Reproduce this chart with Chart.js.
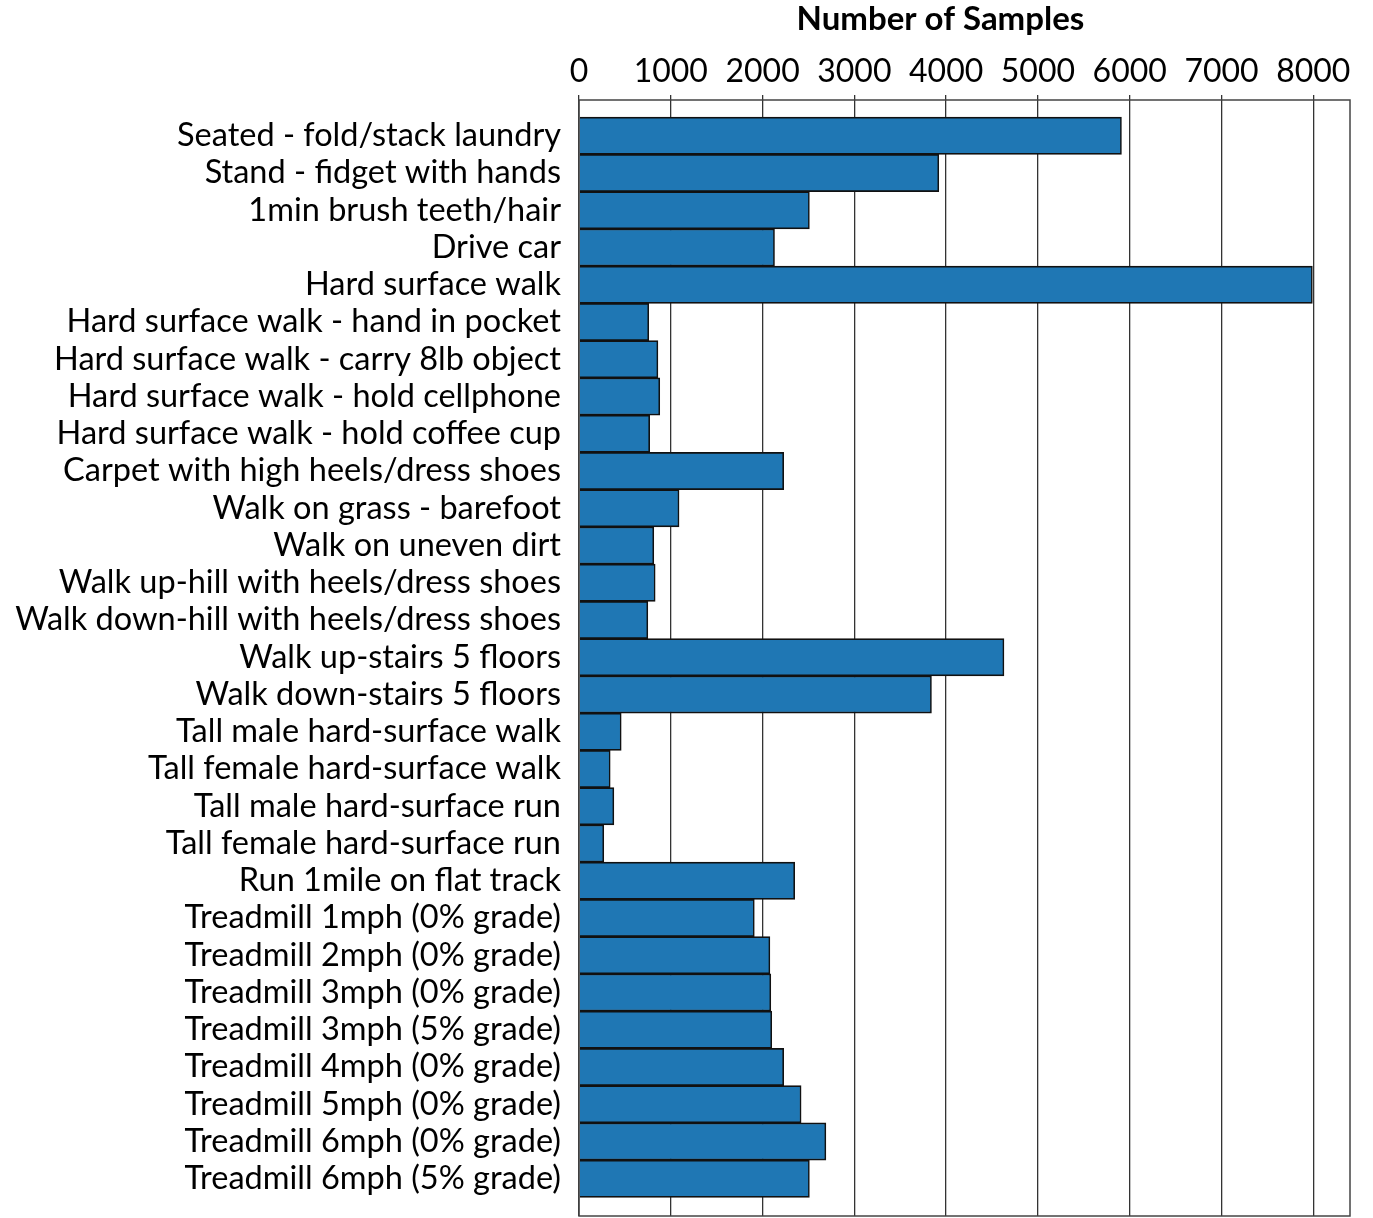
<!DOCTYPE html>
<html>
<head>
<meta charset="utf-8">
<script src="https://cdn.jsdelivr.net/npm/chart.js@4.4.1/dist/chart.umd.min.js"></script>
<style>
  html, body { margin: 0; padding: 0; background: #fff; }
  #wrap { width: 1373px; height: 1218px; }
</style>
</head>
<body>
<div id="wrap"><canvas id="c"></canvas></div>
<script>
  // Activity categories, top to bottom
  const activities = [
    "Seated - fold/stack laundry",
    "Stand - fidget with hands",
    "1min brush teeth/hair",
    "Drive car",
    "Hard surface walk",
    "Hard surface walk - hand in pocket",
    "Hard surface walk - carry 8lb object",
    "Hard surface walk - hold cellphone",
    "Hard surface walk - hold coffee cup",
    "Carpet with high heels/dress shoes",
    "Walk on grass - barefoot",
    "Walk on uneven dirt",
    "Walk up-hill with heels/dress shoes",
    "Walk down-hill with heels/dress shoes",
    "Walk up-stairs 5 floors",
    "Walk down-stairs 5 floors",
    "Tall male hard-surface walk",
    "Tall female hard-surface walk",
    "Tall male hard-surface run",
    "Tall female hard-surface run",
    "Run 1mile on flat track",
    "Treadmill 1mph (0% grade)",
    "Treadmill 2mph (0% grade)",
    "Treadmill 3mph (0% grade)",
    "Treadmill 3mph (5% grade)",
    "Treadmill 4mph (0% grade)",
    "Treadmill 5mph (0% grade)",
    "Treadmill 6mph (0% grade)",
    "Treadmill 6mph (5% grade)",
  ];

  // Number of samples per activity
  const samples = [
    5910, 3920, 2510, 2130, 7990, 760, 860, 880, 770, 2230,
    1090, 815, 830, 750, 4630, 3840, 460, 340, 380, 270,
    2350, 1910, 2080, 2090, 2100, 2230, 2420, 2690, 2510,
  ];

  const xTicks = [0, 1000, 2000, 3000, 4000, 5000, 6000, 7000, 8000];

  const FONT = "Lato, 'Open Sans', sans-serif";
  // index range of the y axis (empty margin above first bar / below last)
  const Y_MIN = -0.96;
  const Y_MAX = 29;

  // frame round the plot area
  const boxPlugin = {
    id: "box",
    afterDraw(chart) {
      const { ctx, chartArea: a } = chart;
      ctx.save();
      ctx.strokeStyle = "#444";
      ctx.lineWidth = 1.5;
      ctx.strokeRect(a.left, a.top, a.right - a.left, a.bottom - a.top);
      ctx.restore();
    },
  };

  new Chart(document.getElementById("c"), {
    type: "bar",
    data: {
      datasets: [
        {
          label: "Number of Samples",
          data: samples.map((v, i) => ({ x: v, y: i })),
          backgroundColor: "#1f77b4",
          borderColor: "#111",
          borderWidth: 1.6,
          barPercentage: 1,
          categoryPercentage: 1,
        },
      ],
    },
    options: {
      indexAxis: "y",
      responsive: true,
      maintainAspectRatio: false,
      animation: false,
      layout: { padding: { right: 23, bottom: 2, left: 0, top: 0 } },
      plugins: {
        legend: { display: false },
        tooltip: { enabled: false },
      },
      scales: {
        x: {
          type: "linear",
          position: "top",
          min: 0,
          max: 8400,
          z: 1,
          afterFit(scale) {
            scale.height = 100;
            scale.paddingLeft = 0;
            scale.paddingRight = 0;
          },
          afterBuildTicks(scale) {
            scale.ticks = xTicks.map((v) => ({ value: v }));
          },
          border: { display: false },
          grid: {
            color: "#333",
            lineWidth: 1.3,
            tickLength: 5,
            drawTicks: true,
          },
          ticks: {
            color: "#000",
            padding: 4,
            maxRotation: 0,
            font: { family: FONT, size: 32 },
            callback(v) {
              return String(v);
            },
          },
          title: {
            display: true,
            text: "Number of Samples      ",
            color: "#000",
            padding: { top: 0, bottom: 0 },
            font: { family: FONT, size: 33, weight: "bold" },
          },
        },
        y: {
          type: "linear",
          reverse: true,
          offset: false,
          min: Y_MIN,
          max: Y_MAX,
          bounds: "data",
          afterFit(scale) {
            scale.width = 579;
            scale.paddingTop = 0;
            scale.paddingBottom = 0;
          },
          afterBuildTicks(scale) {
            scale.ticks = activities.map((_, i) => ({ value: i }));
          },
          border: { display: false },
          grid: { display: false, drawTicks: false, offset: false },
          ticks: {
            color: "#000",
            padding: 18,
            autoSkip: false,
            font: { family: FONT, size: 32.5 },
            callback(v) {
              return activities[v] || "";
            },
          },
        },
      },
    },
    plugins: [boxPlugin],
  });
</script>
</body>
</html>
